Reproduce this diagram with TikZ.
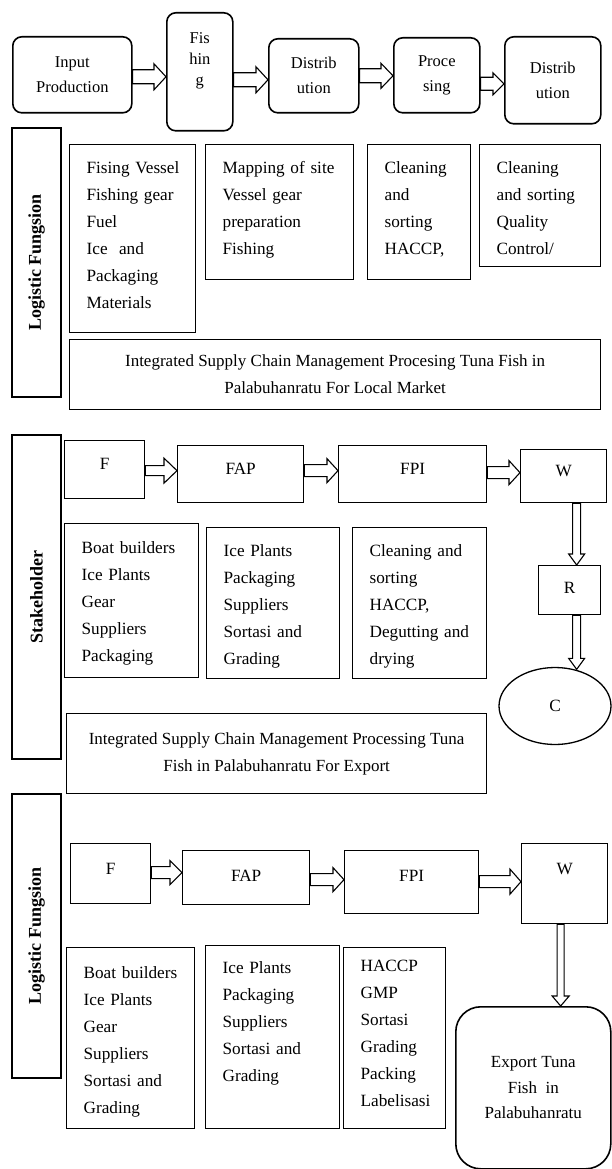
\documentclass[tikz,border=0pt]{standalone}
\usepackage{fontspec}
\setmainfont{Liberation Serif}
\usetikzlibrary{calc,shapes.geometric}
\pgfdeclarelayer{bg}
\pgfsetlayers{bg,main}
\newcommand\lfont{\fontsize{17.2}{27}\selectfont\hyphenpenalty=10000\exhyphenpenalty=10000\hbadness=10000\hfuzz=50pt}
\newcommand\tfont{\fontsize{16.5}{25}\selectfont}
\newcommand\mfont{\fontsize{17}{27}\selectfont}
\newcommand\vfont{\fontsize{18}{20}\selectfont\bfseries}
\begin{document}
\begin{tikzpicture}[x=1pt,y=-1pt,
 box/.style={draw, line width=1.3pt, inner sep=0pt, anchor=north west},
 rbox/.style={box, rounded corners=9pt, line width=1.6pt, align=center, font=\tfont},
 lst/.style n args={3}{box, font=\lfont, align=left, inner xsep=17pt, text width=#1, text height=#2, text depth=#3},
 sbox/.style n args={3}{box, font=\lfont, minimum width=#1, text height=#2, text depth=#3},
 vbox/.style={draw, line width=1.3pt, rotate=90, inner sep=0pt, font=\vfont},
 mbox/.style={box, font=\mfont, align=center},
 harrow/.style n args={3}{draw, fill=white, line width=1.1pt, to path={let \p1=(\tikztostart), \p2=(\tikztotarget) in (\x1,\y1+#1) -- (\x2-#3,\y1+#1) -- (\x2-#3,\y1+#2) -- (\x2,\y1) -- (\x2-#3,\y1-#2) -- (\x2-#3,\y1-#1) -- (\x1,\y1-#1) -- cycle}},
 varrow/.style n args={3}{draw, fill=white, line width=1.1pt, to path={let \p1=(\tikztostart), \p2=(\tikztotarget) in (\x1-#1,\y1) -- (\x1-#1,\y2+#3) -- (\x1-#2,\y2+#3) -- (\x1,\y2) -- (\x1+#2,\y2+#3) -- (\x1+#1,\y2+#3) -- (\x1+#1,\y1) -- cycle}},
]
\useasboundingbox (0,0) rectangle (612,1169);

% top row
\node[rbox, minimum width=119pt, minimum height=76pt] (ip) at (12,36) {Input\\Production};
\node[rbox, minimum width=66pt, text height=73pt, text depth=45pt, font=\fontsize{16.5}{21}\selectfont] (fi) at (166,12) {Fis\\hin\\g};
\node[rbox, minimum width=90pt, minimum height=74pt] (d1) at (268,38) {Distrib\\ution};
\node[rbox, minimum width=86pt, minimum height=75pt] (pr) at (393,37) {Proce\\sing};
\node[rbox, minimum width=96pt, minimum height=87pt] (d2) at (504,36) {Distrib\\ution};

% block 1
\node[vbox, minimum width=269pt, minimum height=49pt] (lf1) at (36.5,262.5) {Logistic Fungsion};
\node[lst={92pt}{29pt}{159pt}] (b1) at (69,144) {Fising~Vessel\\Fishing~gear\\Fuel\\Ice\ \ and\\Packaging\\Materials};
\node[lst={114pt}{29pt}{106pt}] (b2) at (205,144) {Mapping~of~site\\Vessel~gear\\preparation\\Fishing};
\node[lst={69pt}{29pt}{106pt}] (b3) at (367,144) {Cleaning\\and\\sorting\\HACCP,};
\node[lst={87pt}{29pt}{93pt}] (b4) at (479,144) {Cleaning\\and~sorting\\Quality\\Control/};
\node[mbox, minimum width=531pt, minimum height=70pt] (m1) at (69,339) {Integrated Supply Chain Management Procesing Tuna Fish in\\Palabuhanratu For Local Market};

% block 2
\node[vbox, minimum width=324pt, minimum height=49pt] (sh) at (36.5,597) {Stakeholder};
\node[sbox={80pt}{29pt}{29pt}] (f2) at (64,440) {F};
\node[sbox={126pt}{29pt}{28pt}] (fap2) at (177,445) {FAP};
\node[sbox={148pt}{29pt}{28pt}] (fpi2) at (338,445) {FPI};
\node[sbox={86pt}{27pt}{26pt}] (w2) at (520,449) {W};
\node[sbox={62pt}{28pt}{21pt}] (r2) at (538,565) {R};
\node[draw, line width=1.3pt, ellipse, minimum width=112pt, minimum height=77pt, inner sep=0pt, font=\lfont] (c2) at (555,706) {C};
\node[lst={100pt}{30pt}{124pt}] (a2) at (64,523) {Boat~builders\\Ice~Plants\\Gear\\Suppliers\\Packaging};
\node[lst={99pt}{29pt}{122pt}] (bb2) at (206,527) {Ice~Plants\\Packaging\\Suppliers\\Sortasi~and\\Grading};
\node[lst={100pt}{29pt}{122pt}] (cc2) at (352,527) {Cleaning~and\\sorting\\HACCP,\\Degutting~and\\drying};
\node[mbox, minimum width=420pt, minimum height=80pt] (m2) at (66,713) {Integrated Supply Chain Management Processing Tuna\\Fish in Palabuhanratu For Export};

% block 3
\node[vbox, minimum width=284pt, minimum height=49pt] (lf2) at (36.5,936) {Logistic Fungsion};
\node[sbox={80pt}{31pt}{29pt}] (f3) at (70,843) {F};
\node[sbox={127pt}{31pt}{23pt}] (fap3) at (182,850) {FAP};
\node[sbox={134pt}{31pt}{32pt}] (fpi3) at (344,850) {FPI};
\node[sbox={86pt}{31pt}{49pt}] (w3) at (521,843) {W};
\node[box, rounded corners=25pt, line width=1.6pt, minimum width=155pt, minimum height=162pt, align=center, font=\fontsize{17}{25.5}\selectfont] (ex) at (455,1006) {Export Tuna\\Fish\ \ in\\Palabuhanratu};
\node[lst={94pt}{31pt}{150pt}] (a3) at (66,947) {Boat~builders\\Ice~Plants\\Gear\\Suppliers\\Sortasi~and\\Grading};
\node[lst={100pt}{28pt}{155pt}] (bb3) at (205,945) {Ice~Plants\\Packaging\\Suppliers\\Sortasi~and\\Grading};
\node[lst={68pt}{24pt}{157pt}] (cc3) at (343,947) {HACCP\\GMP\\Sortasi\\Grading\\Packing\\Labelisasi};

\begin{pgfonlayer}{bg}
\fill[white] (0,0) rectangle (612,1169);
\draw[harrow={7pt}{13pt}{12pt}] ([yshift=-2pt]ip.east) to (fi.west);
\draw[harrow={7pt}{13pt}{12pt}] ([yshift=-8pt]fi.east) to (d1.west);
\draw[harrow={7pt}{12.5pt}{12pt}] (d1.east) to (pr.west);
\draw[harrow={6.5pt}{11pt}{11pt}] ([yshift=-8.5pt]pr.east) to (d2.west);

\draw[harrow={5pt}{12.5pt}{13pt}] ([yshift=-1pt]f2.east) to (fap2.west);
\draw[harrow={6pt}{12pt}{11pt}] ([yshift=3.5pt]fap2.east) to (fpi2.west);
\draw[harrow={6pt}{12pt}{11pt}] ([yshift=1.5pt]fpi2.east) to (w2.west);
\draw[varrow={4pt}{8pt}{11pt}] ([xshift=13pt]w2.south) to (r2.north);
\draw[varrow={4pt}{8pt}{11pt}] ([xshift=7pt]r2.south) to ([yshift=-2.5pt]c2.north);

\draw[harrow={6pt}{12pt}{12pt}] ([yshift=1pt]f3.east) to (fap3.west);
\draw[harrow={6pt}{12pt}{11pt}] ([yshift=-2pt]fap3.east) to (fpi3.west);
\draw[harrow={6pt}{12.5pt}{11pt}] ([yshift=0.5pt]fpi3.east) to (w3.west);
\draw[varrow={3.5pt}{8.5pt}{10pt}] ([xshift=-4pt]w3.south) to (ex.north);
\end{pgfonlayer}
\end{tikzpicture}
\end{document}
